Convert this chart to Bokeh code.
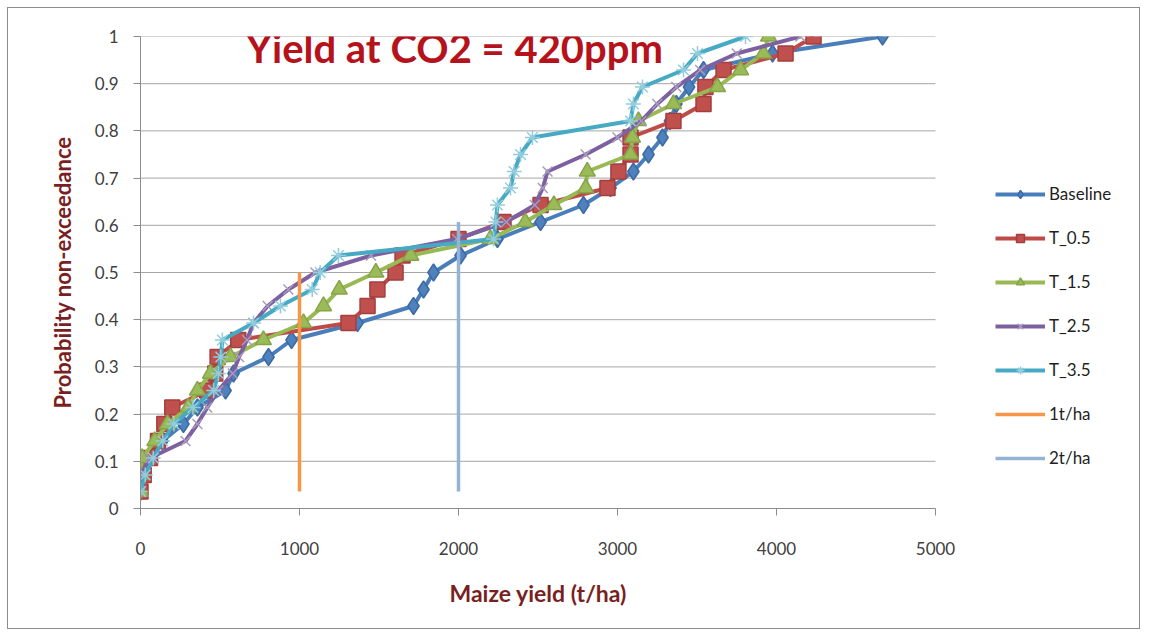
from bokeh.plotting import figure
from bokeh.models import Range1d, Legend, LegendItem, Label, FixedTicker, Title
from bokeh.embed import file_html
from bokeh.resources import INLINE

# ---- data ----
prob = [0.036, 0.071, 0.107, 0.143, 0.179, 0.214, 0.25, 0.286, 0.321, 0.357,
        0.393, 0.429, 0.464, 0.5, 0.536, 0.571, 0.607, 0.643, 0.679, 0.714,
        0.75, 0.786, 0.821, 0.857, 0.893, 0.929, 0.964, 1.0]

baseline = [0, 0, 0, 138, 270, 358, 535, 585, 805, 950, 1365, 1717, 1780, 1843,
            2013, 2245, 2516, 2786, 2956, 3100, 3195, 3283, 3330, 3370, 3450,
            3541, 3975, 4667]
t_05 = [0, 20, 60, 110, 150, 200, 420, 470, 485, 615, 1308, 1428, 1490, 1604,
        1648, 2000, 2283, 2516, 2937, 3006, 3082, 3082, 3352, 3541, 3553, 3667,
        4057, 4233]
t_15 = [0, 0, 10, 90, 170, 300, 358, 440, 566, 773, 1025, 1151, 1250, 1480,
        1700, 2200, 2420, 2600, 2800, 2810, 3082, 3094, 3132, 3352, 3629, 3774,
        3918, 3950]
t_25 = [0, 0, 60, 283, 358, 420, 490, 580, 620, 670, 710, 800, 930, 1100,
        1450, 1990, 2300, 2480, 2530, 2560, 2800, 3000, 3150, 3250, 3370, 3520,
        3750, 4150]
t_35 = [0, 30, 80, 140, 210, 330, 460, 490, 505, 515, 711, 880, 1080, 1130,
        1245, 2220, 2235, 2245, 2327, 2350, 2390, 2465, 3082, 3100, 3157, 3415,
        3503, 3805]

line_1t_x = [1000, 1000]
line_1t_y = [0.036, 0.5]
line_2t_x = [2000, 2000]
line_2t_y = [0.036, 0.607]

x_ticks = [0, 1000, 2000, 3000, 4000, 5000]
x_tick_labels = ["0", "1000", "2000", "3000", "4000", "5000"]
y_ticks = [0, 0.1, 0.2, 0.3, 0.4, 0.5, 0.6, 0.7, 0.8, 0.9, 1]
y_tick_labels = ["0", "0.1", "0.2", "0.3", "0.4", "0.5", "0.6", "0.7", "0.8", "0.9", "1"]

series_names = ["Baseline", "T_0.5", "T_1.5", "T_2.5", "T_3.5"]
series_values = [baseline, t_05, t_15, t_25, t_35]

FONT = "Lato"
X_MIN, X_MAX = 0, 5000

# layout: the plotting frame runs to the right edge so that the legend
# (drawn inside the frame) is not clipped; the axis itself stops at X_MAX.
W, H = 1133, 622
LEFT, TOP, BOTTOM = 132, 28, 122
AXIS_PX = 795                      # pixel length of the 0..5000 axis
FRAME_PX = W - LEFT
x_end = X_MAX * FRAME_PX / AXIS_PX

p = figure(width=W, height=H, output_backend="svg", toolbar_location=None,
           x_range=Range1d(X_MIN, x_end), y_range=Range1d(0, 1),
           min_border_left=LEFT, min_border_right=0, min_border_top=TOP,
           min_border_bottom=BOTTOM)
p.styles = {"border": "1px solid #8c8c8c", "margin": "7px"}
p.outline_line_color = None
p.background_fill_color = "white"
p.border_fill_color = "white"

# axes
for ax in (p.xaxis[0], p.yaxis[0]):
    ax.axis_line_color = "#8c8c8c"
    ax.axis_line_width = 1
    ax.major_tick_line_color = "#8c8c8c"
    ax.major_tick_in = 0
    ax.major_tick_out = 7
    ax.minor_tick_line_color = None
    ax.major_label_text_font = FONT
    ax.major_label_text_font_size = "17px"
    ax.major_label_text_color = "#404040"

p.xaxis.bounds = (X_MIN, X_MAX)
p.xaxis.ticker = FixedTicker(ticks=x_ticks)
p.xaxis.major_label_overrides = dict(zip(x_ticks, x_tick_labels))
p.xaxis.major_label_standoff = 26
p.yaxis.ticker = FixedTicker(ticks=y_ticks)
p.yaxis.major_label_overrides = dict(zip(y_ticks, y_tick_labels))
p.yaxis.major_label_standoff = 15

p.yaxis.axis_label = "Probability non-exceedance"
p.yaxis.axis_label_text_font = FONT
p.yaxis.axis_label_text_font_style = "bold"
p.yaxis.axis_label_text_font_size = "22px"
p.yaxis.axis_label_text_color = "#7a1f1f"
p.yaxis.axis_label_standoff = 16

# x-axis title, centred under the 0..5000 axis
p.add_layout(Title(text="Maize yield (t/ha)", align="left", offset=309,
                   text_font=FONT, text_font_style="bold", text_font_size="23px",
                   text_color="#7a1f1f", standoff=38), "below")

# horizontal gridlines limited to the axis extent
p.xgrid.visible = False
p.ygrid.visible = False
p.segment(x0=[X_MIN] * len(y_ticks), x1=[X_MAX] * len(y_ticks), y0=y_ticks, y1=y_ticks,
          line_color="#a6a6a6", line_width=1, level="underlay")

# title
p.add_layout(Label(x=1975, y=0.975, text="Yield at CO2 = 420ppm",
                   text_align="center", text_baseline="middle",
                   text_font=FONT, text_font_style="bold", text_font_size="40px",
                   text_color="#b5121b"))

styles = [
    dict(line="#4a7ebb", marker="diamond", fill="#4f81bd", mline="#3c6aa5", size=17),
    dict(line="#be4b48", marker="square", fill="#c0504d", mline="#a33f3c", size=15),
    dict(line="#98b954", marker="triangle", fill="#9bbb59", mline="#86a548", size=16),
    dict(line="#7d60a0", marker="x", fill="#a99bbd", mline="#a99bbd", size=14),
    dict(line="#46aac5", marker="asterisk", fill="#93cddd", mline="#93cddd", size=15),
]

items = []
for name, xs, st in zip(series_names, series_values, styles):
    r_line = p.line(xs, prob, line_color=st["line"], line_width=4)
    r_mark = p.scatter(xs, prob, marker=st["marker"], size=st["size"],
                       fill_color=st["fill"], line_color=st["mline"], line_width=1.5)
    items.append(LegendItem(label=name, renderers=[r_line, r_mark]))

r1 = p.line(line_1t_x, line_1t_y, line_color="#f79646", line_width=3.5)
r2 = p.line(line_2t_x, line_2t_y, line_color="#95b3d7", line_width=3.5)
items.append(LegendItem(label="1t/ha", renderers=[r1]))
items.append(LegendItem(label="2t/ha", renderers=[r2]))

legend = Legend(items=items, location=(855, 40), orientation="vertical",
                glyph_width=50, glyph_height=20, label_height=20, spacing=23,
                padding=0, margin=0, label_standoff=4,
                label_text_font=FONT, label_text_font_size="17px",
                label_text_color="#1f1f1f",
                border_line_color=None, background_fill_alpha=0)
p.add_layout(legend, "center")

open("out.html", "w").write(file_html(p, INLINE))
